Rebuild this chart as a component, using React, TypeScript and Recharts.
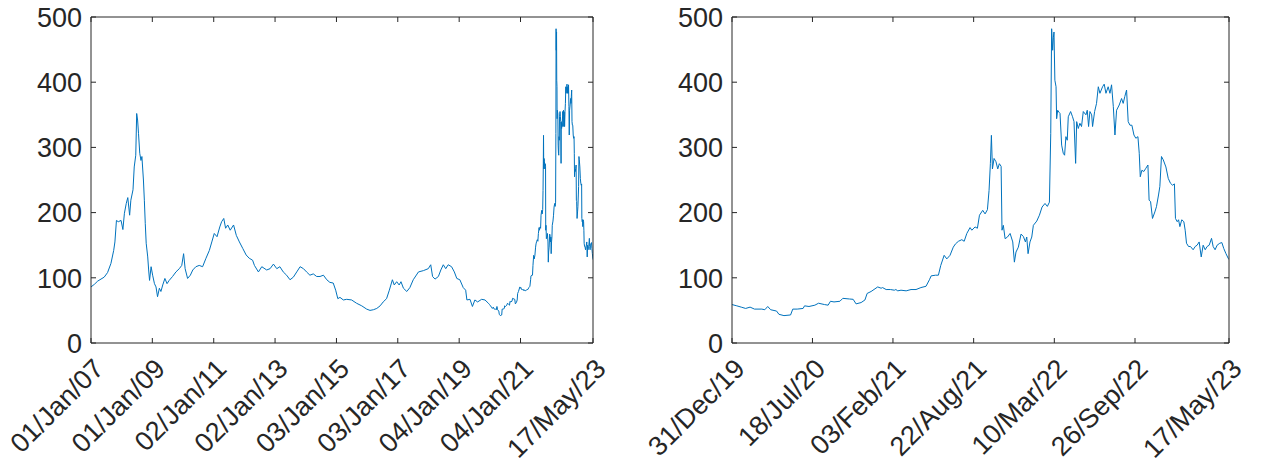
import React from 'react';
import { LineChart, Line, XAxis, YAxis } from 'recharts';

// ---- data (decimal years, price index) ----
const earlyYears = [
  2007.0, 2007.11, 2007.22, 2007.43, 2007.54, 2007.65, 2007.74, 2007.78, 2007.83, 2007.89, 2007.98,
  2008.04, 2008.09, 2008.15, 2008.2, 2008.26, 2008.3, 2008.37, 2008.41, 2008.46, 2008.49, 2008.52,
  2008.55, 2008.59, 2008.63, 2008.66, 2008.71, 2008.74, 2008.77, 2008.8, 2008.85, 2008.88, 2008.91,
  2008.96, 2009.01, 2009.07, 2009.12, 2009.17, 2009.23, 2009.28, 2009.34, 2009.41, 2009.48, 2009.55,
  2009.66, 2009.77, 2009.88, 2009.96, 2010.02, 2010.07, 2010.15, 2010.24, 2010.32, 2010.42, 2010.53,
  2010.64, 2010.75, 2010.86, 2010.94, 2011.02, 2011.11, 2011.2, 2011.26, 2011.33, 2011.39, 2011.46,
  2011.54, 2011.65, 2011.74, 2011.84, 2011.95, 2012.06, 2012.16, 2012.27, 2012.33, 2012.46, 2012.57,
  2012.73, 2012.84, 2012.95, 2013.06, 2013.16, 2013.27, 2013.38, 2013.49, 2013.6, 2013.71, 2013.82,
  2013.93, 2014.03, 2014.14, 2014.25, 2014.36, 2014.47, 2014.58, 2014.69, 2014.79, 2014.9, 2014.98,
  2015.05, 2015.12, 2015.23, 2015.34, 2015.5, 2015.66, 2015.83, 2015.99, 2016.1, 2016.21, 2016.32,
  2016.43, 2016.53, 2016.64, 2016.73, 2016.83, 2016.89, 2016.97, 2017.05, 2017.11, 2017.19, 2017.3,
  2017.4, 2017.51, 2017.68, 2017.84, 2018.0, 2018.08, 2018.14, 2018.22, 2018.33, 2018.41, 2018.49,
  2018.57, 2018.65, 2018.76, 2018.85, 2018.93, 2019.03, 2019.14, 2019.22, 2019.26, 2019.36, 2019.44,
  2019.52, 2019.61, 2019.74, 2019.85, 2019.96,
];
const earlyPrices = [
  86, 90, 95, 101, 108, 122, 142, 155, 188, 186, 188,
  174, 199, 214, 223, 196, 219, 235, 270, 288, 352, 342,
  321, 291, 280, 286, 250, 219, 183, 153, 132, 112, 96,
  117, 104, 91, 86, 71, 84, 79, 89, 99, 91, 96,
  102, 109, 114, 119, 137, 114, 99, 104, 112, 117, 119,
  117, 130, 142, 155, 168, 163, 178, 186, 191, 176, 181,
  173, 181, 165, 155, 145, 135, 130, 127, 119, 109, 117,
  112, 114, 121, 114, 117, 109, 104, 97, 101, 109, 117,
  114, 109, 104, 106, 102, 102, 104, 97, 93, 92, 81,
  68, 70, 66, 67, 66, 61, 57, 52, 50, 51, 53,
  57, 63, 68, 81, 97, 89, 94, 89, 94, 84, 79,
  85, 97, 109, 111, 114, 120, 102, 98, 102, 112, 120,
  114, 120, 117, 109, 99, 97, 85, 81, 66, 67, 56,
  66, 63, 67, 66, 61,
];
const recentYears = [
  2019.997, 2020.03, 2020.06, 2020.09, 2020.12, 2020.15, 2020.2, 2020.22, 2020.24, 2020.26, 2020.3,
  2020.316, 2020.35, 2020.395, 2020.41, 2020.44, 2020.48, 2020.49, 2020.52, 2020.56, 2020.585, 2020.625,
  2020.65, 2020.666, 2020.69, 2020.73, 2020.75, 2020.795, 2020.82, 2020.84, 2020.874, 2020.9, 2020.915,
  2020.942, 2020.987, 2021.01, 2021.02, 2021.044, 2021.073, 2021.1, 2021.11, 2021.123, 2021.145, 2021.18,
  2021.213, 2021.247, 2021.28, 2021.315, 2021.338, 2021.35, 2021.38, 2021.399, 2021.415, 2021.438, 2021.456,
  2021.478, 2021.5, 2021.515, 2021.535, 2021.558, 2021.574, 2021.592, 2021.614, 2021.626, 2021.648, 2021.664,
  2021.678, 2021.7, 2021.716, 2021.732, 2021.743, 2021.752, 2021.759, 2021.766, 2021.777, 2021.79, 2021.802,
  2021.813, 2021.825, 2021.831, 2021.84, 2021.852, 2021.868, 2021.886, 2021.904, 2021.915, 2021.926, 2021.942,
  2021.96, 2021.976, 2021.99, 2021.999, 2022.008, 2022.021, 2022.033, 2022.044, 2022.067, 2022.085, 2022.103,
  2022.123, 2022.139, 2022.153, 2022.162, 2022.168, 2022.175, 2022.18, 2022.184, 2022.19, 2022.198, 2022.202,
  2022.209, 2022.218, 2022.225, 2022.236, 2022.247, 2022.256, 2022.265, 2022.274, 2022.281, 2022.297, 2022.31,
  2022.32, 2022.331, 2022.338, 2022.349, 2022.36, 2022.371, 2022.383, 2022.401, 2022.41, 2022.419, 2022.428,
  2022.44, 2022.446, 2022.46, 2022.473, 2022.485, 2022.496, 2022.514, 2022.525, 2022.537, 2022.552, 2022.564,
  2022.575, 2022.587, 2022.598, 2022.609, 2022.627, 2022.643, 2022.654, 2022.665, 2022.677, 2022.688, 2022.7,
  2022.713, 2022.727, 2022.74, 2022.754, 2022.763, 2022.77, 2022.781, 2022.794, 2022.808, 2022.822, 2022.83,
  2022.84, 2022.853, 2022.869, 2022.88, 2022.894, 2022.903, 2022.914, 2022.926, 2022.944, 2022.96, 2022.975,
  2022.989, 2023.002, 2023.009, 2023.021, 2023.03, 2023.039, 2023.052, 2023.066, 2023.075, 2023.084, 2023.098,
  2023.111, 2023.129, 2023.143, 2023.156, 2023.17, 2023.184, 2023.197, 2023.211, 2023.224, 2023.238, 2023.254,
  2023.265, 2023.278, 2023.292, 2023.31, 2023.324, 2023.337, 2023.351, 2023.367, 2023.3726,
];
const recentPrices = [
  59, 57, 55, 53, 55, 52, 52, 51, 56, 51, 49,
  44, 42, 43, 52, 52, 53, 57, 56, 58, 61, 59,
  58, 64, 63, 64, 68.5, 67.5, 67, 60, 62, 66, 76,
  79, 86, 84, 85, 82, 82, 81, 82, 80, 81, 80,
  82, 82, 85, 87, 97, 103, 104, 104, 119, 134.5, 129,
  134.5, 147, 152, 156, 158.5, 156, 168, 177, 173, 178, 176,
  196, 203.5, 198, 204.5, 234, 275, 318.5, 267, 283, 278, 267,
  275, 271, 173, 180.5, 160, 162.5, 168, 155, 124, 139.5, 147,
  167, 163.5, 155, 162.5, 137, 155, 162.5, 180.5, 187, 196, 208.5,
  214, 209.5, 216, 321, 482, 449, 469, 477, 403, 393, 344,
  357, 354, 352, 303.5, 291, 288, 316.5, 311, 347, 355, 347,
  339.5, 275.5, 339.5, 329, 337, 332, 355, 350, 357, 332, 355,
  350, 332, 355, 367.5, 393, 383, 393, 397, 383, 393, 383,
  396, 362.5, 319, 357, 365, 375, 367.5, 378, 388, 339.5, 334,
  334, 319, 314, 316.5, 291, 255, 265, 263, 268, 273, 219,
  217, 191, 201, 209, 227, 240, 286, 281, 270, 252.5, 245,
  242, 244, 191, 186, 189, 178.5, 189, 186, 173, 153, 148,
  148, 143, 148, 150, 155, 132, 150, 143, 148, 150, 160.5,
  148, 143, 150, 153, 154, 145, 137.5, 130, 128,
];

const fullTickDates = ['2007-01-01', '2009-01-01', '2011-01-02', '2013-01-02', '2015-01-03', '2017-01-03', '2019-01-04', '2021-01-04', '2023-05-17'];
const fullTickLabels = ['01/Jan/07', '01/Jan/09', '02/Jan/11', '02/Jan/13', '03/Jan/15', '03/Jan/17', '04/Jan/19', '04/Jan/21', '17/May/23'];
const zoomTickDates = ['2019-12-31', '2020-07-18', '2021-02-03', '2021-08-22', '2022-03-10', '2022-09-26', '2023-05-17'];
const zoomTickLabels = ['31/Dec/19', '18/Jul/20', '03/Feb/21', '22/Aug/21', '10/Mar/22', '26/Sep/22', '17/May/23'];
const priceTicks = [0, 100, 200, 300, 400, 500];

// ---- helpers ----
function decimalYear(iso: string): number {
  const [y, m, d] = iso.split('-').map(Number);
  const start = Date.UTC(y, 0, 1);
  const end = Date.UTC(y + 1, 0, 1);
  return y + (Date.UTC(y, m - 1, d) - start) / (end - start);
}

const fullData = [
  ...earlyYears.map((t, i) => ({ t, v: earlyPrices[i] })),
  ...recentYears.map((t, i) => ({ t, v: recentPrices[i] })),
];
const zoomData = recentYears.map((t, i) => ({ t, v: recentPrices[i] }));

const AXIS = '#262626';
const LINE = '#0072BD';
const FONT = '"Liberation Sans", Arial, Helvetica, sans-serif';
const FS = 27;
const TL = 5;

const LeftTick = (props: any) => {
  const { x, y, payload } = props;
  return (
    <g>
      <line x1={x} y1={y} x2={x + TL} y2={y} stroke={AXIS} strokeWidth={1} />
      <text x={x - 9} y={y} dy="0.36em" textAnchor="end" fontSize={FS} fontFamily={FONT} fill={AXIS}>
        {payload.value}
      </text>
    </g>
  );
};
const RightTick = (props: any) => {
  const { x, y } = props;
  return <line x1={x} y1={y} x2={x - TL} y2={y} stroke={AXIS} strokeWidth={1} />;
};
const TopTick = (props: any) => {
  const { x, y } = props;
  return <line x1={x} y1={y} x2={x} y2={y + TL} stroke={AXIS} strokeWidth={1} />;
};
const makeBottomTick = (ticks: number[], labels: string[]) => (props: any) => {
  const { x, y, payload } = props;
  let idx = 0;
  let best = Infinity;
  ticks.forEach((tv, i) => {
    const dd = Math.abs(tv - payload.value);
    if (dd < best) { best = dd; idx = i; }
  });
  const ax = x + 8;
  const ay = y + 21;
  return (
    <g>
      <line x1={x} y1={y} x2={x} y2={y - TL} stroke={AXIS} strokeWidth={1} />
      <text
        x={ax}
        y={ay}
        textAnchor="end"
        dominantBaseline="central"
        transform={`rotate(-45 ${ax} ${ay})`}
        fontSize={FS}
        fontFamily={FONT}
        fill={AXIS}
      >
        {labels[idx]}
      </text>
    </g>
  );
};

type PanelProps = {
  data: { t: number; v: number }[];
  tickDates: string[];
  tickLabels: string[];
  width: number;
  plot: { top: number; right: number; bottom: number; left: number };
};

function Panel({ data, tickDates, tickLabels, width, plot }: PanelProps) {
  const ticks = tickDates.map(decimalYear);
  const domain = [ticks[0], ticks[ticks.length - 1]];
  const BottomTick = makeBottomTick(ticks, tickLabels);
  // each axis occupies 1px outside the plot box
  const margin = { top: plot.top - 1, right: plot.right - 1, bottom: plot.bottom - 1, left: plot.left - 1 };
  return (
    <LineChart width={width} height={468} data={data} margin={margin}>
      <XAxis
        xAxisId="b"
        dataKey="t"
        type="number"
        scale="linear"
        domain={domain}
        allowDataOverflow
        ticks={ticks}
        interval={0}
        height={1}
        tickSize={0}
        tickMargin={0}
        tickLine={false}
        axisLine={{ stroke: AXIS, strokeWidth: 1 }}
        tick={BottomTick}
      />
      <XAxis
        xAxisId="top"
        orientation="top"
        dataKey="t"
        type="number"
        scale="linear"
        domain={domain}
        allowDataOverflow
        ticks={ticks}
        interval={0}
        height={1}
        tickSize={0}
        tickMargin={0}
        tickLine={false}
        axisLine={{ stroke: AXIS, strokeWidth: 1 }}
        tick={TopTick}
      />
      <YAxis
        yAxisId="l"
        type="number"
        domain={[0, 500]}
        allowDataOverflow
        ticks={priceTicks}
        interval={0}
        width={1}
        tickSize={0}
        tickMargin={0}
        tickLine={false}
        axisLine={{ stroke: AXIS, strokeWidth: 1 }}
        tick={LeftTick}
      />
      <YAxis
        yAxisId="r"
        orientation="right"
        type="number"
        domain={[0, 500]}
        allowDataOverflow
        ticks={priceTicks}
        interval={0}
        width={1}
        tickSize={0}
        tickMargin={0}
        tickLine={false}
        axisLine={{ stroke: AXIS, strokeWidth: 1 }}
        tick={RightTick}
      />
      <Line
        xAxisId="b"
        yAxisId="l"
        type="linear"
        dataKey="v"
        stroke={LINE}
        strokeWidth={1}
        dot={false}
        activeDot={false}
        isAnimationActive={false}
      />
    </LineChart>
  );
}

export default function App() {
  return (
    <div style={{ position: 'absolute', left: 0, top: 0, width: 1261, height: 468, background: '#fff' }}>
      <div style={{ position: 'absolute', left: 0, top: 0 }}>
        <Panel
          data={fullData}
          tickDates={fullTickDates}
          tickLabels={fullTickLabels}
          width={620}
          plot={{ top: 17, right: 27, bottom: 125, left: 91 }}
        />
      </div>
      <div style={{ position: 'absolute', left: 620, top: 0 }}>
        <Panel
          data={zoomData}
          tickDates={zoomTickDates}
          tickLabels={zoomTickLabels}
          width={641}
          plot={{ top: 17, right: 32, bottom: 125, left: 112 }}
        />
      </div>
    </div>
  );
}
